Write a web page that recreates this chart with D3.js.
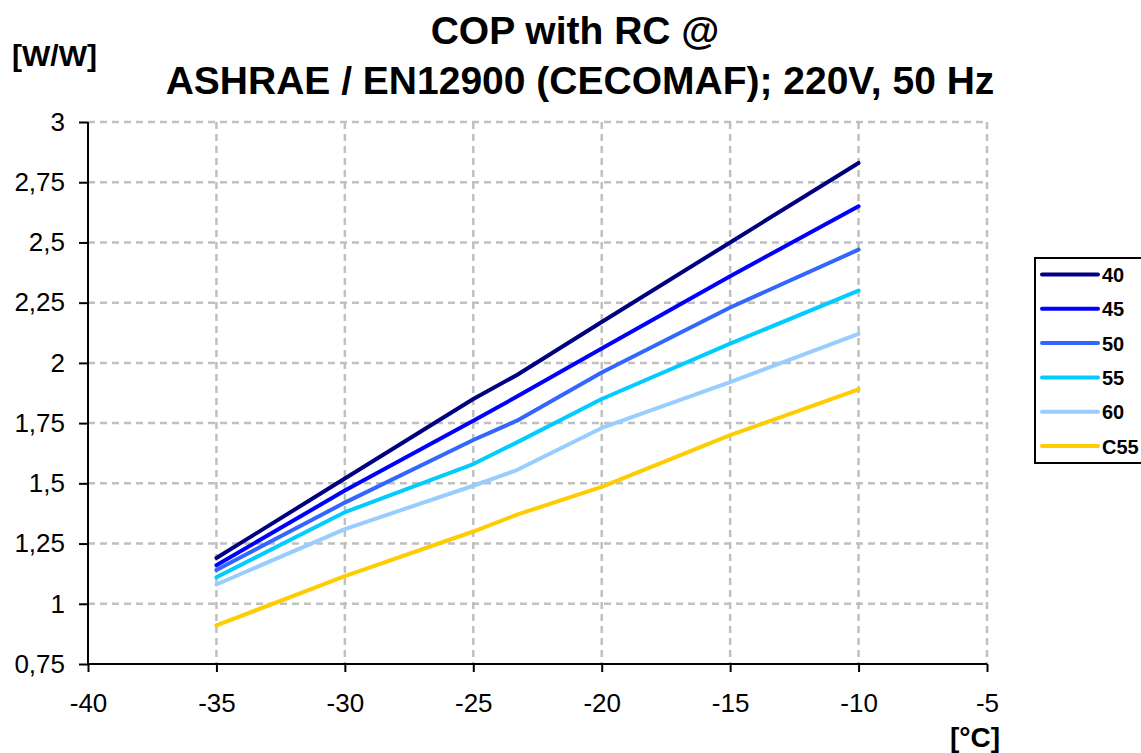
<!DOCTYPE html>
<html>
<head>
<meta charset="utf-8">
<script src="https://cdn.jsdelivr.net/npm/d3@7"></script>
<style>
  body { margin: 0; background: #fff; }
  svg { font-family: "Liberation Sans", Arial, sans-serif; }
</style>
</head>
<body>
<svg id="chart" width="1141" height="753"></svg>
<script>
// evaporating temperature [°C]
var temps = [-35, -30, -25, -23.3, -20, -15, -10];

// COP [W/W] per condensing temperature
var cop40  = [1.19, 1.52, 1.85, 1.95, 2.17, 2.50, 2.83];
var cop45  = [1.16, 1.47, 1.76, 1.86, 2.06, 2.36, 2.65];
var cop50  = [1.14, 1.42, 1.68, 1.76, 1.96, 2.23, 2.47];
var cop55  = [1.11, 1.38, 1.58, 1.67, 1.85, 2.08, 2.30];
var cop60  = [1.08, 1.31, 1.49, 1.555, 1.73, 1.92, 2.12];
var copC55 = [0.91, 1.115, 1.30, 1.37, 1.485, 1.70, 1.89];

var seriesNames = ["40", "45", "50", "55", "60", "C55"];
var seriesValues = [cop40, cop45, cop50, cop55, cop60, copC55];
var seriesColors = ["#000080", "#0000ff", "#3366ff", "#00ccff", "#99ccff", "#ffcc00"];

var xTicks = [-40, -35, -30, -25, -20, -15, -10, -5];
var yTicks = [0.75, 1, 1.25, 1.5, 1.75, 2, 2.25, 2.5, 2.75, 3];

var margin = {left: 88, right: 154, top: 122, bottom: 89},
    width = 1141 - margin.left - margin.right,
    height = 753 - margin.top - margin.bottom;

var svg = d3.select("#chart");
var g = svg.append("g")
    .attr("transform", "translate(" + margin.left + "," + margin.top + ")");

var x = d3.scaleLinear().domain([-40, -5]).range([0, width]);
var y = d3.scaleLinear().domain([0.75, 3]).range([height, 0]);

function fmt(v) { return String(v).replace(".", ","); }

// grid
g.append("g").selectAll("line.vx")
    .data(xTicks.slice(1))
    .enter().append("line")
    .attr("x1", function(d) { return x(d); })
    .attr("x2", function(d) { return x(d); })
    .attr("y1", 0).attr("y2", height)
    .attr("stroke", "#c0c0c0").attr("stroke-width", 2.5)
    .attr("stroke-dasharray", "7,5");

g.append("g").selectAll("line.hy")
    .data(yTicks.slice(1))
    .enter().append("line")
    .attr("x1", 0).attr("x2", width)
    .attr("y1", function(d) { return y(d); })
    .attr("y2", function(d) { return y(d); })
    .attr("stroke", "#c0c0c0").attr("stroke-width", 2.5)
    .attr("stroke-dasharray", "7,5");

// axes
var xAxis = g.append("g")
    .attr("transform", "translate(0," + height + ")")
    .call(d3.axisBottom(x).tickValues(xTicks).tickSize(8).tickPadding(22).tickFormat(fmt));
var yAxis = g.append("g")
    .call(d3.axisLeft(y).tickValues(yTicks).tickSize(9).tickPadding(14).tickFormat(fmt));

[xAxis, yAxis].forEach(function(a) {
    a.select(".domain").attr("stroke", "#000").attr("stroke-width", 2);
    a.selectAll(".tick line").attr("stroke", "#000").attr("stroke-width", 2);
    a.selectAll(".tick text")
        .attr("fill", "#000")
        .style("font-size", "26px")
        .style("font-family", "Liberation Sans, Arial, sans-serif");
});
yAxis.select(".domain").attr("d", "M0," + height + "V0");
xAxis.select(".domain").attr("d", "M0,0H" + width);

// lines
var line = d3.line()
    .x(function(d, i) { return x(temps[i]); })
    .y(function(d) { return y(d); });

seriesValues.forEach(function(vals, i) {
    g.append("path")
        .datum(vals)
        .attr("d", line)
        .attr("fill", "none")
        .attr("stroke", seriesColors[i])
        .attr("stroke-width", 4)
        .attr("stroke-linecap", "round")
        .attr("stroke-linejoin", "round");
});

// titles
svg.append("text")
    .attr("x", 575).attr("y", 44)
    .attr("text-anchor", "middle")
    .style("font-size", "39px").style("font-weight", "bold")
    .text("COP with RC @");
svg.append("text")
    .attr("x", 580).attr("y", 94)
    .attr("text-anchor", "middle")
    .style("font-size", "39px").style("font-weight", "bold")
    .text("ASHRAE / EN12900 (CECOMAF); 220V, 50 Hz");
svg.append("text")
    .attr("x", 12).attr("y", 66)
    .style("font-size", "30px").style("font-weight", "bold")
    .text("[W/W]");
svg.append("text")
    .attr("x", 1000).attr("y", 747)
    .attr("text-anchor", "end")
    .style("font-size", "28px").style("font-weight", "bold")
    .text("[°C]");

// legend
var legend = svg.append("g").attr("transform", "translate(1035,258)");
legend.append("rect")
    .attr("x", 0).attr("y", 0)
    .attr("width", 120).attr("height", 205)
    .attr("fill", "#fff").attr("stroke", "#000").attr("stroke-width", 2);

var item = legend.selectAll("g.item")
    .data(seriesNames)
    .enter().append("g")
    .attr("transform", function(d, i) { return "translate(0," + (16.5 + i * 34.3) + ")"; });
item.append("line")
    .attr("x1", 7).attr("x2", 63)
    .attr("stroke", function(d, i) { return seriesColors[i]; })
    .attr("stroke-width", 4)
    .attr("stroke-linecap", "round");
item.append("text")
    .attr("x", 67).attr("y", 7.5)
    .style("font-size", "20px").style("font-weight", "bold")
    .text(function(d) { return d; });
</script>
</body>
</html>
